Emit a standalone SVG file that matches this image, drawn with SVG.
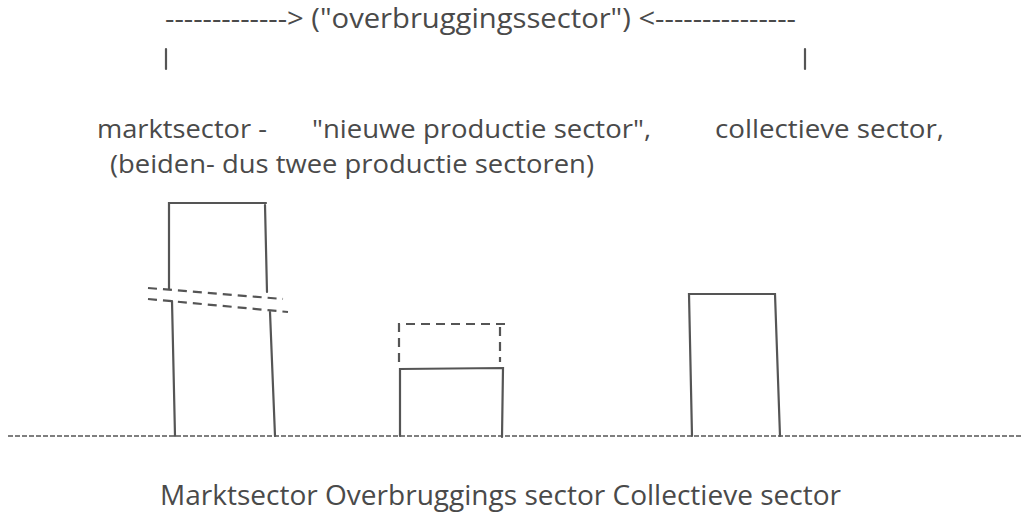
<svg xmlns="http://www.w3.org/2000/svg" width="1021" height="520" viewBox="0 0 1021 520">
<style>
text{font-family:"Open Sans","Liberation Sans",sans-serif;font-size:27px;fill:#4a4a4a}
.m{font-size:25.5px}
.s{fill:none;stroke:#555;stroke-width:2.2;stroke-linecap:round}
.d{fill:none;stroke:#555;stroke-width:2.2;stroke-dasharray:9 6}
.g{fill:none;stroke:#555;stroke-width:1.5;stroke-dasharray:5 2}
</style>
<rect width="1021" height="520" fill="#fff"/>
<g id="labels">
<text x="165" y="28" textLength="631" lengthAdjust="spacingAndGlyphs">-------------&gt; ("overbruggingssector") &lt;---------------</text>
<line class="s" x1="166" y1="49" x2="166" y2="69"/>
<line class="s" x1="805" y1="49" x2="805" y2="69"/>
<text class="m" x="97" y="138" textLength="170" lengthAdjust="spacingAndGlyphs">marktsector -</text>
<text class="m" x="312" y="138" textLength="339" lengthAdjust="spacingAndGlyphs">"nieuwe productie sector",</text>
<text class="m" x="715" y="138" textLength="229" lengthAdjust="spacingAndGlyphs">collectieve sector,</text>
<text class="m" x="110" y="173" textLength="484" lengthAdjust="spacingAndGlyphs">(beiden- dus twee productie sectoren)</text>
<text x="160" y="505" textLength="681" lengthAdjust="spacingAndGlyphs">Marktsector Overbruggings sector Collectieve sector</text>
</g>
<g id="ground"><line class="g" x1="8" y1="436" x2="1021" y2="436"/></g>
<g id="marktsector">
<path class="s" d="M169 289 L169 203 L266 203 M265 205 L267 292"/>
<line class="d" x1="148" y1="288" x2="283" y2="299"/>
<line class="d" x1="148" y1="299" x2="288" y2="312"/>
<path class="s" d="M172 301 L175 436 M270 312 L275 436"/>
</g>
<g id="overbrugging">
<path class="d" d="M399 362 L399 324 L505 324 M500 327 L500 362"/>
<path class="s" d="M400 436 L400 369 L503 368 L502 437"/>
</g>
<g id="collectief">
<path class="s" d="M692 436 L689 294 L775 294 L780 436"/>
</g>
</svg>
